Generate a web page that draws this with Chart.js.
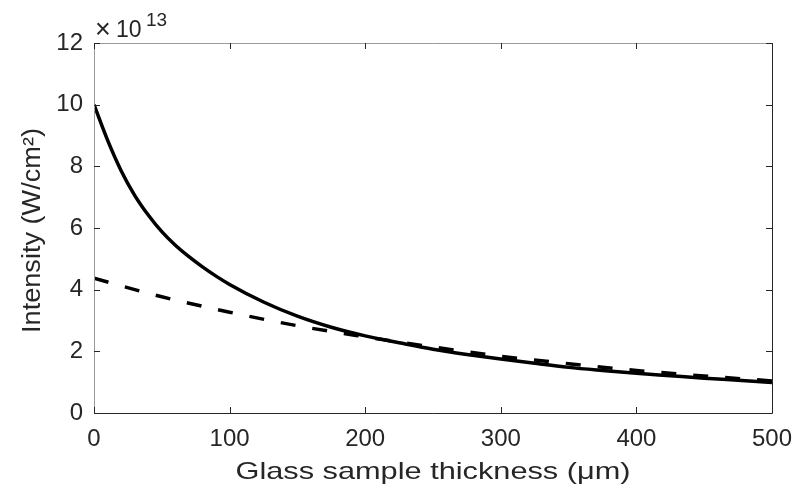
<!DOCTYPE html>
<html>
<head>
<meta charset="utf-8">
<script src="https://cdn.jsdelivr.net/npm/chart.js@4/dist/chart.umd.min.js"></script>
<style>
    html, body { margin: 0; padding: 0; background: #fff; }
    #wrap { width: 796px; height: 489px; }
</style>
</head>
<body>
<div id="wrap"><canvas id="myChart" width="796" height="489"></canvas></div>
<script>
// values in units of 1e13 W/cm^2
const thickness = [0, 10, 20, 30, 40, 50, 60, 70, 80, 90, 100, 125, 150, 175, 200, 225, 250, 275, 300, 325, 350, 375, 400, 425, 450, 475, 500];
const intensitySolid = [10.0, 8.85, 7.86, 7.06, 6.42, 5.88, 5.44, 5.07, 4.74, 4.44, 4.17, 3.6, 3.14, 2.78, 2.5, 2.28, 2.07, 1.9, 1.75, 1.61, 1.48, 1.38, 1.29, 1.21, 1.13, 1.06, 0.99];
const thicknessDashed = [0, 50, 100, 150, 200, 250, 300, 350, 400, 450, 500];
const intensityDashed = [4.37, 3.77, 3.27, 2.83, 2.47, 2.14, 1.84, 1.6, 1.38, 1.2, 1.04];
const xTicks = [0, 100, 200, 300, 400, 500];
const yTicks = [0, 2, 4, 6, 8, 10, 12];
const xTitle = 'Glass sample thickness (\u03bcm)';
const yTitle = 'Intensity (W/cm\u00b2)';

const fontFamily = '"Liberation Sans", Arial, Helvetica, sans-serif';
const axisColor = '#262626';

const toPoints = (xs, ys) => xs.map((x, i) => ({ x: x, y: ys[i] }));

// MATLAB-like box with inward ticks, axis titles and the exponent label
const boxPlugin = {
    id: 'boxTicks',
    afterDraw(chart) {
        const ctx = chart.ctx;
        const area = chart.chartArea;
        const xs = chart.scales.x;
        const ys = chart.scales.y;
        const tick = 6;
        ctx.save();
        ctx.lineWidth = 1;
        // box
        ctx.strokeStyle = '#9a9a9a';
        ctx.beginPath();
        ctx.moveTo(area.left + 0.5, area.bottom);
        ctx.lineTo(area.left + 0.5, area.top + 0.5);
        ctx.lineTo(area.right, area.top + 0.5);
        ctx.stroke();
        ctx.strokeStyle = axisColor;
        ctx.beginPath();
        ctx.moveTo(area.left, area.bottom + 0.5);
        ctx.lineTo(area.right + 0.5, area.bottom + 0.5);
        ctx.lineTo(area.right + 0.5, area.top);
        ctx.stroke();
        // ticks
        ctx.beginPath();
        xTicks.forEach(v => {
            const px = Math.round(xs.getPixelForValue(v)) + 0.5;
            ctx.moveTo(px, area.bottom);
            ctx.lineTo(px, area.bottom - tick);
            ctx.moveTo(px, area.top);
            ctx.lineTo(px, area.top + tick);
        });
        yTicks.forEach(v => {
            const py = Math.round(ys.getPixelForValue(v)) + 0.5;
            ctx.moveTo(area.left, py);
            ctx.lineTo(area.left + tick, py);
            ctx.moveTo(area.right, py);
            ctx.lineTo(area.right - tick, py);
        });
        ctx.stroke();

        ctx.fillStyle = axisColor;
        ctx.textBaseline = 'alphabetic';
        // x10^13
        ctx.textAlign = 'left';
        ctx.font = '27px ' + fontFamily;
        ctx.fillText('\u00d7', area.left + 1, 38);
        ctx.font = '23px ' + fontFamily;
        ctx.fillText('10', area.left + 22, 37);
        ctx.font = '19px ' + fontFamily;
        ctx.fillText('13', area.left + 52, 26);

        // axis titles (the reference font runs wide)
        ctx.textAlign = 'center';
        ctx.font = '24px ' + fontFamily;
        ctx.save();
        ctx.translate((area.left + area.right) / 2, 479);
        ctx.scale(1.28, 1);
        ctx.fillText(xTitle, 0, 0);
        ctx.restore();

        ctx.font = '25px ' + fontFamily;
        ctx.save();
        ctx.translate(40, 230.5);
        ctx.rotate(-Math.PI / 2);
        ctx.scale(1.085, 1);
        ctx.fillText(yTitle, 0, 0);
        ctx.restore();
        ctx.restore();
    }
};

const ctx = document.getElementById('myChart').getContext('2d');
const myChart = new Chart(ctx, {
    type: 'line',
    data: {
        datasets: [
            {
                label: 'solid',
                data: toPoints(thickness, intensitySolid),
                borderColor: '#000',
                borderWidth: 3.5,
                pointRadius: 0,
                cubicInterpolationMode: 'monotone',
                fill: false
            },
            {
                label: 'dashed',
                data: toPoints(thicknessDashed, intensityDashed),
                borderColor: '#000',
                borderWidth: 3.5,
                borderDash: [15, 17],
                pointRadius: 0,
                cubicInterpolationMode: 'monotone',
                fill: false
            }
        ]
    },
    options: {
        responsive: false,
        animation: false,
        layout: {
            padding: { top: 43, right: 24, left: 0, bottom: 0 }
        },
        plugins: {
            legend: { display: false },
            tooltip: { enabled: false }
        },
        scales: {
            x: {
                type: 'linear',
                min: 0,
                max: 500,
                afterFit: scale => {
                    scale.height = 76;
                    scale.paddingLeft = 0;
                    scale.paddingRight = 0;
                },
                afterBuildTicks: scale => { scale.ticks = xTicks.map(v => ({ value: v })); },
                border: { display: false },
                grid: { display: false, drawTicks: false },
                ticks: {
                    color: axisColor,
                    padding: 12,
                    maxRotation: 0,
                    font: { family: fontFamily, size: 24 }
                }
            },
            y: {
                type: 'linear',
                min: 0,
                max: 12,
                afterFit: scale => {
                    scale.width = 94;
                    scale.paddingTop = 0;
                    scale.paddingBottom = 0;
                },
                afterBuildTicks: scale => { scale.ticks = yTicks.map(v => ({ value: v })); },
                border: { display: false },
                grid: { display: false, drawTicks: false },
                ticks: {
                    color: axisColor,
                    padding: 11,
                    font: { family: fontFamily, size: 24 }
                }
            }
        }
    },
    plugins: [boxPlugin]
});
</script>
</body>
</html>
